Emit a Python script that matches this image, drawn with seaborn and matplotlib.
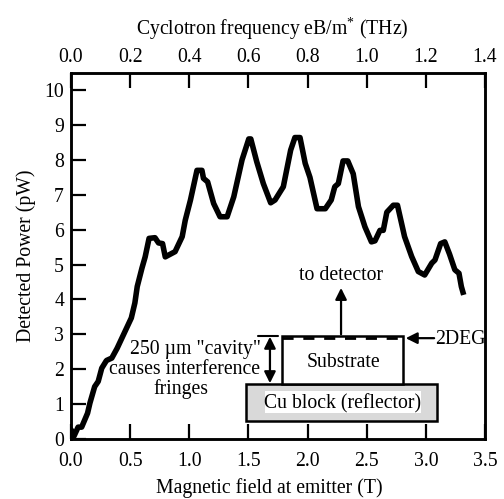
"""
Detected power against magnetic field, with the cavity sketch as an inset.
"""
import matplotlib
matplotlib.use("Agg")
import matplotlib.pyplot as plt
from matplotlib.patches import Rectangle
import pandas as pd
import seaborn as sns

# Curve
field_t = [0.0, 0.0, 0.025, 0.06, 0.09, 0.14, 0.16, 0.20, 0.23, 0.26, 0.30, 0.345, 0.39, 0.47, 0.51,
           0.54, 0.56, 0.60, 0.627, 0.66, 0.71, 0.74, 0.774, 0.797, 0.88, 0.94, 0.966, 1.01, 1.065,
           1.107, 1.12, 1.155, 1.206, 1.26, 1.32, 1.376, 1.446, 1.503, 1.52, 1.57, 1.626, 1.688,
           1.725, 1.795, 1.857, 1.893, 1.936, 1.98, 2.02, 2.08, 2.15, 2.2, 2.23, 2.26, 2.3, 2.34,
           2.386, 2.43, 2.485, 2.54, 2.57, 2.612, 2.64, 2.67, 2.725, 2.76, 2.82, 2.88, 2.936, 2.99,
           3.05, 3.077, 3.125, 3.16, 3.2, 3.245, 3.28, 3.3, 3.32]
power_pw = [0.03, 0.27, 0.08, 0.34, 0.34, 0.74, 1.03, 1.5, 1.65, 2.03, 2.25, 2.32, 2.6, 3.18, 3.47,
            3.9, 4.37, 4.9, 5.22, 5.75, 5.77, 5.62, 5.6, 5.22, 5.37, 5.8, 6.27, 6.85, 7.7,
            7.7, 7.47, 7.37, 6.75, 6.37, 6.37, 6.94, 8.0, 8.6, 8.6, 7.95, 7.32, 6.77,
            6.85, 7.23, 8.28, 8.64, 8.64, 7.9, 7.5, 6.6, 6.6, 6.85, 7.23, 7.32, 7.97, 7.97,
            7.6, 6.66, 6.08, 5.65, 5.68, 5.98, 5.98, 6.5, 6.7, 6.7, 5.8, 5.23, 4.8, 4.7,
            5.04, 5.13, 5.6, 5.65, 5.3, 4.85, 4.75, 4.37, 4.13]

x_ticks = [0.0, 0.5, 1.0, 1.5, 2.0, 2.5, 3.0, 3.5]
y_ticks = [0, 1, 2, 3, 4, 5, 6, 7, 8, 9, 10]
top_ticks = [0.0, 0.2, 0.4, 0.6, 0.8, 1.0, 1.2, 1.4]

sns.set_style("ticks")
plt.rcParams["font.family"] = ["Liberation Serif", "DejaVu Sans"]
plt.rcParams["mathtext.fontset"] = "custom"
plt.rcParams["mathtext.rm"] = "Liberation Serif"
plt.rcParams["mathtext.default"] = "regular"
plt.rcParams["text.color"] = "black"
plt.rcParams["axes.labelcolor"] = "black"
FONT = 14.2

fig = plt.figure(figsize=(5.04, 4.99), dpi=100)
ax = fig.add_axes([71 / 504, 1 - 439 / 499, 414 / 504, 366 / 499])

df = pd.DataFrame({"field": field_t, "power": power_pw})
sns.lineplot(data=df, x="field", y="power", sort=False, estimator=None, color="black",
             linewidth=4.0, solid_joinstyle="round", solid_capstyle="butt", ax=ax)

ax.set_xlim(0, 3.5)
ax.set_ylim(0, 10.49)
ax.set_xticks(x_ticks)
ax.set_xticklabels([f"{v:.1f}" for v in x_ticks])
ax.set_yticks(y_ticks)
ax.set_xlabel("Magnetic field at emitter (T)", fontsize=FONT, labelpad=5, x=0.48)
ax.set_ylabel("Detected Power (pW)", fontsize=FONT, labelpad=6)
ax.tick_params(axis="x", direction="in", length=11, width=1.6, labelsize=FONT, pad=9.5, colors="black")
ax.tick_params(axis="y", direction="in", length=11, width=1.6, labelsize=FONT, pad=5, colors="black")

top = ax.twiny()
top.set_xlim(0, 1.4)
top.set_xticks(top_ticks)
top.set_xticklabels([f"{v:.1f}" for v in top_ticks])
top.set_xlabel("Cyclotron frequency eB/m$^{*}$ (THz)", fontsize=FONT, labelpad=9, x=0.485)
top.tick_params(axis="x", direction="in", length=11, width=1.6, labelsize=FONT, pad=4.5, colors="black")

for a in (ax, top):
    for spine in a.spines.values():
        spine.set_visible(True)
        spine.set_linewidth(1.8)
        spine.set_color("black")

# Cavity sketch
ax.add_patch(Rectangle((1.476, 0.524), 1.614, 1.052, facecolor="#d9d9d9", edgecolor="black", linewidth=1.8, zorder=3))
ax.add_patch(Rectangle((1.64, 0.756), 1.32, 0.631, facecolor="white", edgecolor="none", zorder=3))
ax.add_patch(Rectangle((1.786, 1.59), 1.022, 1.35, facecolor="white", edgecolor="black", linewidth=1.8, zorder=3))
ax.plot([1.786, 2.808], [2.89, 2.89], color="black", linewidth=2.0, linestyle=(0, (4, 3.5)), zorder=4)
ax.plot([1.58, 1.75], [2.94, 2.94], color="black", linewidth=1.5, zorder=4)

arrow = dict(arrowstyle="-|>", color="black", linewidth=1.6, mutation_scale=17, shrinkA=0, shrinkB=0)
ax.annotate("", xy=(2.283, 4.33), xytext=(2.283, 3.0), arrowprops=arrow, zorder=4)
ax.annotate("", xy=(2.83, 2.89), xytext=(3.07, 2.89), arrowprops=arrow, zorder=4)
ax.annotate("", xy=(1.682, 2.93), xytext=(1.682, 1.6),
            arrowprops=dict(arrow, arrowstyle="<|-|>"), zorder=4)

label = dict(fontsize=FONT, color="black", va="center", zorder=5)
ax.text(2.28, 4.69, "to detector", ha="center", **label)
ax.text(2.3, 2.2, "Substrate", ha="center", **label)
ax.text(2.3, 1.01, "Cu block (reflector)", ha="center", **label)
ax.text(3.08, 2.86, "2DEG", ha="left", **label)
ax.text(0.5, 2.57, "250 µm \"cavity\"", ha="left", **label)
ax.text(0.96, 2.0, "causes interference", ha="center", **label)
ax.text(0.926, 1.43, "fringes", ha="center", **label)

fig.savefig("out.png", dpi=100)
plt.close(fig)
